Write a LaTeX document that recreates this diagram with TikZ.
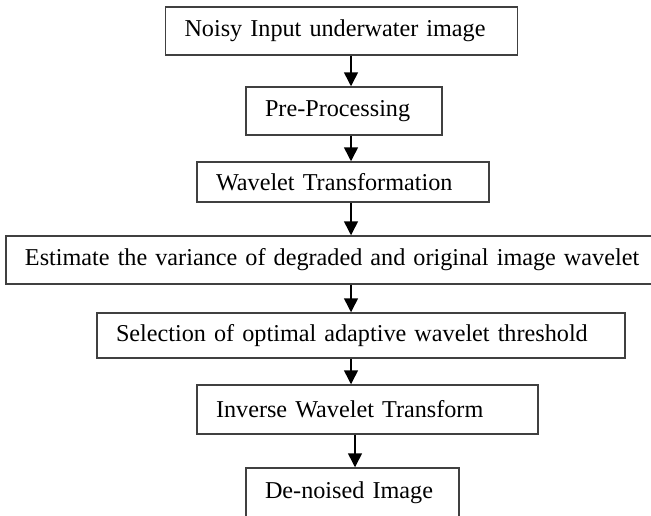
\documentclass[tikz,border=0pt]{standalone}
\usepackage{fontspec}
\setmainfont{Liberation Serif}
\usetikzlibrary{positioning}
\usetikzlibrary{calc}
\usetikzlibrary{arrows.meta}

\begin{document}
\begin{tikzpicture}[
	x=0.5pt,
	y=-0.5pt,
	font=\fontsize{12.1}{14}\selectfont]

\tikzstyle{stage}=[draw=black!75, line width=0.75pt, rectangle, align=left,
	inner xsep=9.5pt, inner ysep=0pt]
\tikzstyle{flow}=[draw=black, line width=0.75pt,
	-{Triangle[length=7pt,width=7pt]}]

\useasboundingbox (0,0) rectangle (651,515);

\def\ArrowX{351}
\coordinate (trunk) at (\ArrowX,0);

% processing stages, top to bottom
\node[stage, text width=157pt, minimum height=24pt] (input) at (341.5,31)
	{Noisy Input underwater image};
\node[stage, text width=79pt, minimum height=24pt] (pre) at (344,111)
	{Pre-Processing};
\node[stage, text width=127pt, minimum height=20pt] (dwt) at (343,182)
	{Wavelet Transformation};
\node[stage, text width=315pt, minimum height=24pt] (variance) at (340,260)
	{Estimate the variance of degraded and original image wavelet};
\node[stage, text width=245pt, minimum height=22.5pt] (threshold) at (361,335.5)
	{Selection of optimal adaptive wavelet threshold};
\node[stage, text width=151.5pt, minimum height=24.5pt] (idwt) at (367.5,409.5)
	{Inverse Wavelet Transform};
\node[stage, text width=87.5pt, minimum height=25pt] (output) at (352.5,493)
	{De-noised Image};

% arrows between stages
\draw[flow] (input.south -| trunk) -- (pre.north -| trunk);
\draw[flow] (pre.south -| trunk) -- (dwt.north -| trunk);
\draw[flow] (dwt.south -| trunk) -- (variance.north -| trunk);
\draw[flow] (variance.south -| trunk) -- (threshold.north -| trunk);
\draw[flow] (threshold.south -| trunk) -- (idwt.north -| trunk);
\draw[flow] ([xshift=2pt]idwt.south -| trunk) -- ([xshift=2pt]output.north -| trunk);

\end{tikzpicture}
\end{document}
